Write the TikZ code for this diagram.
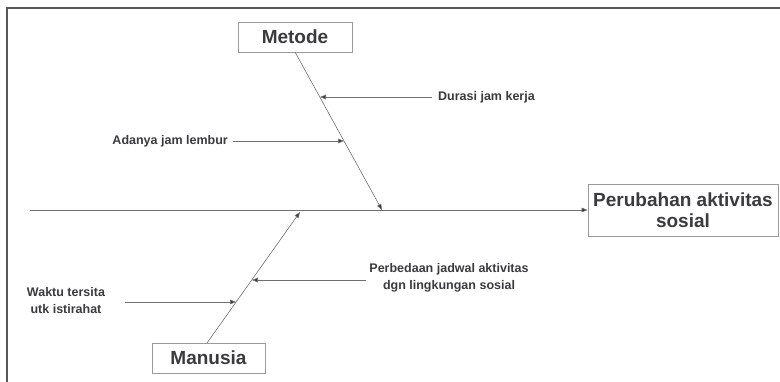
\documentclass[tikz,border=0pt]{standalone}
\usepackage{fontspec}
\setmainfont{Liberation Sans}
\usetikzlibrary{arrows.meta}
\definecolor{inkgray}{HTML}{3A3A3F}
\definecolor{linegray}{HTML}{6E6E74}
\definecolor{boxgray}{HTML}{9A9A9A}
\tikzset{
  causebox/.style={draw=boxgray, line width=0.7pt, fill=white, text=inkgray,
    font=\fontsize{19}{21}\selectfont\bfseries, inner sep=0pt, align=center},
  label/.style={text=inkgray, font=\fontsize{12.5}{17}\selectfont\bfseries,
    inner sep=3pt, align=center},
  bone/.style={draw=linegray, line width=0.6pt},
  tipline/.style={draw=linegray, line width=0.6pt,
    -{Triangle[length=6pt,width=4.5pt,fill=inkgray]}},
}
\begin{document}
\begin{tikzpicture}[x=1pt,y=-1pt]
  \useasboundingbox (0,0) rectangle (780,382);
  % outer frame (top and left edges)
  \draw[draw=inkgray!85, line width=2.5pt] (7,382) -- (7,8) -- (780,8);

  % head and category boxes
  \node[causebox, minimum width=190pt, minimum height=52pt] (effect) at (683,210)
    {Perubahan aktivitas\\sosial};
  \node[causebox, minimum width=114pt, minimum height=30pt] (metode) at (295,37) {Metode};
  \node[causebox, minimum width=113pt, minimum height=30pt] (manusia) at (208.5,358) {Manusia};

  % spine
  \coordinate (tail) at (30,210);
  \draw[tipline] (tail) -- (effect.west);

  % main bones
  \coordinate (mtop) at (295,52);
  \coordinate (mjoin) at (382,210);
  \draw[tipline] (mtop) -- (mjoin);
  \coordinate (ubot) at (207,343);
  \coordinate (ujoin) at (300,212);
  \draw[tipline] (ubot) -- (ujoin);

  % causes on the Metode bone
  \node[label, anchor=west] (durasi) at (435,97) {Durasi jam kerja};
  \coordinate (durasiTip) at (320,97);
  \draw[tipline] ([xshift=-3pt]durasi.west) -- (durasiTip);

  \node[label, anchor=east] (lembur) at (231,141) {Adanya jam lembur};
  \coordinate (lemburTip) at (344,141);
  \draw[tipline] ([xshift=2pt]lembur.east) -- (lemburTip);

  % causes on the Manusia bone
  \node[label] (jadwal) at (449,278) {Perbedaan jadwal aktivitas\\dgn lingkungan sosial};
  \coordinate (jadwalTip) at (252,280);
  \draw[tipline] (jadwal.west |- jadwalTip) -- (jadwalTip);

  \node[label] (waktu) at (66,301) {Waktu tersita\\utk istirahat};
  \coordinate (waktuStart) at (125,302);
  \coordinate (waktuTip) at (236,302);
  \draw[tipline] (waktuStart) -- (waktuTip);
\end{tikzpicture}
\end{document}
